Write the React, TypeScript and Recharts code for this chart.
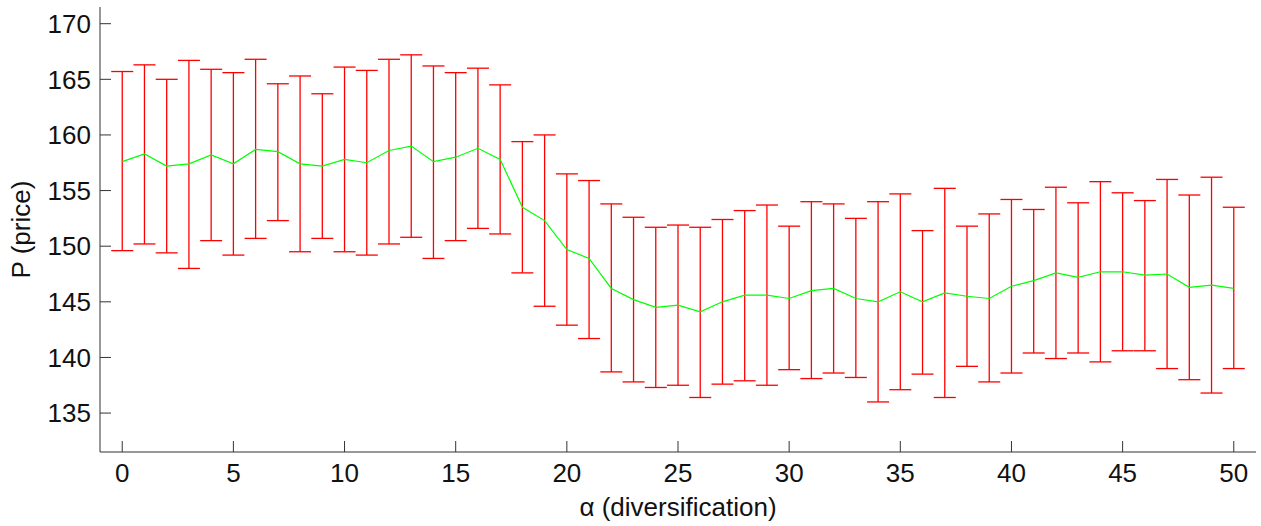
import { ComposedChart, Line, XAxis, YAxis, ErrorBar } from "recharts";

// diversification values on the x axis
const alpha = [
  0, 1, 2, 3, 4, 5, 6, 7, 8, 9, 10, 11, 12, 13, 14, 15, 16, 17, 18, 19, 20, 21, 22, 23, 24, 25,
  26, 27, 28, 29, 30, 31, 32, 33, 34, 35, 36, 37, 38, 39, 40, 41, 42, 43, 44, 45, 46, 47, 48, 49, 50,
];

// mean price (green line)
const meanPrice = [
  157.6, 158.3, 157.2, 157.4, 158.2, 157.4, 158.7, 158.5, 157.4, 157.2, 157.8, 157.5, 158.6, 159.0,
  157.6, 158.0, 158.8, 157.8, 153.5, 152.3, 149.7, 148.9, 146.2, 145.2, 144.5, 144.7, 144.1, 145.0,
  145.6, 145.6, 145.3, 146.0, 146.2, 145.3, 145.0, 145.9, 145.0, 145.8, 145.5, 145.3, 146.4, 146.9,
  147.6, 147.2, 147.7, 147.7, 147.4, 147.5, 146.3, 146.5, 146.2,
];

// top of each error bar
const upperPrice = [
  165.7, 166.3, 165.0, 166.7, 165.9, 165.6, 166.8, 164.6, 165.3, 163.7, 166.1, 165.8, 166.8, 167.2,
  166.2, 165.6, 166.0, 164.5, 159.4, 160.0, 156.5, 155.9, 153.8, 152.6, 151.7, 151.9, 151.7, 152.4,
  153.2, 153.7, 151.8, 154.0, 153.8, 152.5, 154.0, 154.7, 151.4, 155.2, 151.8, 152.9, 154.2, 153.3,
  155.3, 153.9, 155.8, 154.8, 154.1, 156.0, 154.6, 156.2, 153.5,
];

// bottom of each error bar
const lowerPrice = [
  149.6, 150.2, 149.4, 148.0, 150.5, 149.2, 150.7, 152.3, 149.5, 150.7, 149.5, 149.2, 150.2, 150.8,
  148.9, 150.5, 151.6, 151.1, 147.6, 144.6, 142.9, 141.7, 138.7, 137.8, 137.3, 137.5, 136.4, 137.6,
  137.9, 137.5, 138.9, 138.1, 138.6, 138.2, 136.0, 137.1, 138.5, 136.4, 139.2, 137.8, 138.6, 140.4,
  139.9, 140.4, 139.6, 140.6, 140.6, 139.0, 138.0, 136.8, 139.0,
];

const xTicks = [0, 5, 10, 15, 20, 25, 30, 35, 40, 45, 50];
const yTicks = [135, 140, 145, 150, 155, 160, 165, 170];

const data = alpha.map((a, i) => ({
  alpha: a,
  mean: meanPrice[i],
  err: [meanPrice[i] - lowerPrice[i], upperPrice[i] - meanPrice[i]],
}));

const font = "'Liberation Sans', Arial, sans-serif";
const axisColor = "#333333";

export default function App() {
  return (
    <div style={{ position: "absolute", left: 0, top: 0, background: "#fff" }}>
      <ComposedChart
        width={1261}
        height={526}
        data={data}
        margin={{ top: 7, right: 5, left: 0, bottom: 0 }}
      >
        <XAxis
          dataKey="alpha"
          type="number"
          domain={[-1, 51]}
          ticks={xTicks}
          allowDataOverflow
          height={74}
          stroke={axisColor}
          tickSize={-11}
          tickMargin={23}
          tick={{ fill: "#111", fontSize: 26, fontFamily: font }}
          label={{
            value: "α (diversification)",
            position: "insideBottom",
            offset: 10,
            fill: "#111",
            fontSize: 26,
            fontFamily: font,
          }}
        />
        <YAxis
          type="number"
          domain={[131.5, 171.5]}
          ticks={yTicks}
          allowDataOverflow
          width={100}
          stroke={axisColor}
          tickSize={-11}
          tickMargin={20}
          tick={{ fill: "#111", fontSize: 26, fontFamily: font }}
          label={{
            value: "P (price)",
            angle: -90,
            position: "insideLeft",
            offset: 21,
            style: { textAnchor: "middle" },
            fill: "#111",
            fontSize: 26,
            fontFamily: font,
          }}
        />
        <Line
          dataKey="mean"
          stroke="#00ff00"
          strokeWidth={1.2}
          dot={false}
          isAnimationActive={false}
        >
          <ErrorBar
            dataKey="err"
            direction="y"
            width={11}
            stroke="#ff0000"
            strokeWidth={1.3}
            isAnimationActive={false}
          />
        </Line>
      </ComposedChart>
    </div>
  );
}
